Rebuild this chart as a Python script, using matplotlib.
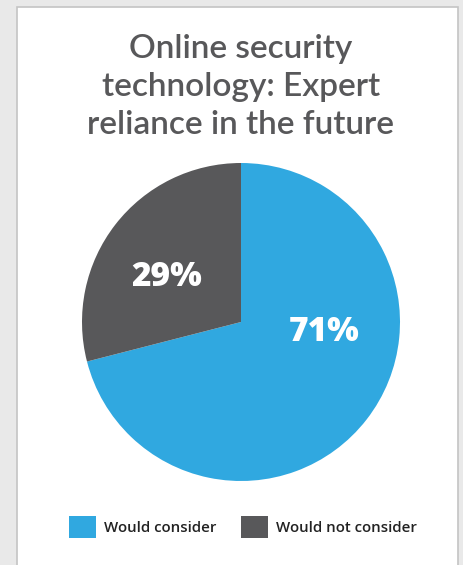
import matplotlib.pyplot as plt
from matplotlib.patches import Rectangle

labels = ["Would consider", "Would not consider"]
values = [71, 29]
colors = ["#30A8E0", "#58585A"]
pct_text = ["71%", "29%"]
# label spots inside the pie (unit radius)
pct_pos = [(0.522, -0.065), (-0.465, 0.285)]

title = "Online security\ntechnology: Expert\nreliance in the future"

W, H = 463, 565
fig = plt.figure(figsize=(W / 100, H / 100), dpi=100)
fig.patch.set_facecolor("#e9e9e9")

# white card
card = Rectangle((17 / W, -0.01), (458 - 17) / W, 1 - 7 / H + 0.01,
                 transform=fig.transFigure, facecolor="white",
                 edgecolor="#c4c4c4", linewidth=1.2, zorder=-5)
fig.patches.append(card)

fig.text(241 / W, 1 - 87 / H, title, ha="center", va="center",
         fontsize=24, color="#58585A", family="Lato", fontweight="semibold",
         linespacing=1.32)

cx, cy, r = 241, 322, 159
ax = fig.add_axes([(cx - r) / W, 1 - (cy + r) / H, 2 * r / W, 2 * r / H])
wedges, _ = ax.pie(values, colors=colors, startangle=90, counterclock=False,
                   radius=1, wedgeprops=dict(linewidth=0))
ax.set_xlim(-1, 1)
ax.set_ylim(-1, 1)
ax.set_aspect("auto")
ax.axis("off")

for t, (x, y) in zip(pct_text, pct_pos):
    ax.text(x, y, t, ha="center", va="center", color="white",
            fontsize=24, fontweight=800, family="Open Sans")

fig.legend(wedges, labels, loc="center", bbox_to_anchor=(243 / W, 1 - 527 / H),
           ncol=2, frameon=False, handlelength=1.8, handleheight=1.8,
           handletextpad=0.55, columnspacing=1.6,
           prop=dict(family="Open Sans", size=10.8, weight="semibold"),
           labelcolor="#222222")

fig.savefig("out.png", dpi=100, facecolor=fig.get_facecolor())
